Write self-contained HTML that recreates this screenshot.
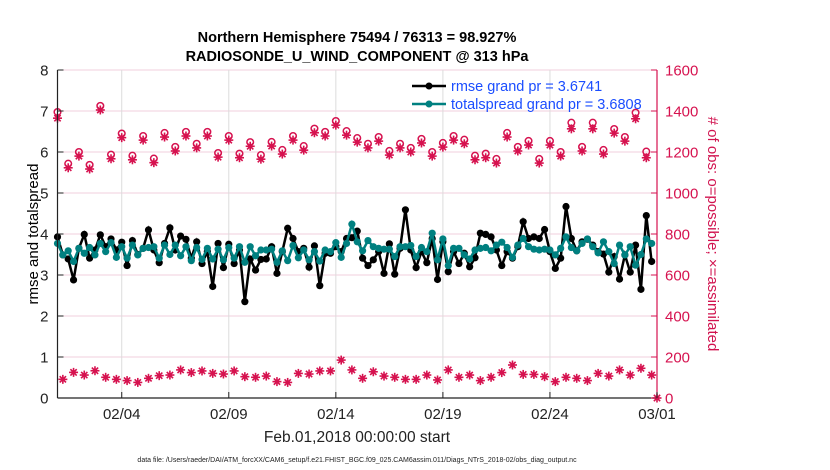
<!DOCTYPE html>
<html><head><meta charset="utf-8"><style>
body{margin:0;background:#fff;}
svg{display:block;font-family:"Liberation Sans",Arial,sans-serif;}
</style></head><body>
<svg id="chart" width="830" height="470" viewBox="0 0 830 470">
<g id="grid"></g>
<g id="marks"></g>
<g id="axes"></g>
<text x="357" y="42" text-anchor="middle" font-size="14.5" font-weight="bold">Northern Hemisphere 75494 / 76313 = 98.927%</text>
<text x="357" y="61" text-anchor="middle" font-size="14.5" font-weight="bold">RADIOSONDE_U_WIND_COMPONENT @ 313 hPa</text>
<text transform="translate(38,234) rotate(-90)" text-anchor="middle" font-size="15">rmse and totalspread</text>
<text transform="translate(708,234) rotate(90)" text-anchor="middle" font-size="15" fill="#d1134f"># of obs: o=possible; ×=assimilated</text>
<text x="357" y="442" text-anchor="middle" font-size="15.5" fill="#222">Feb.01,2018 00:00:00 start</text>
<text x="357" y="462" text-anchor="middle" font-size="7" fill="#222">data file: /Users/raeder/DAI/ATM_forcXX/CAM6_setup/f.e21.FHIST_BGC.f09_025.CAM6assim.011/Diags_NTrS_2018-02/obs_diag_output.nc</text>
<g>
<line x1="412" y1="86" x2="446" y2="86" stroke="#000" stroke-width="2.5"/>
<circle cx="429" cy="86" r="3.5" fill="#000"/>
<text x="451" y="91" font-size="14.5" fill="#1a4dff">rmse grand pr = 3.6741</text>
<line x1="412" y1="104" x2="446" y2="104" stroke="#008080" stroke-width="2.5"/>
<circle cx="429" cy="104" r="3.5" fill="#008080"/>
<text x="451" y="109" font-size="14.5" fill="#1a4dff">totalspread grand pr = 3.6808</text>
</g>
</svg>
<script>
const rmse=[3.93,3.49,3.39,2.88,3.65,3.99,3.41,3.61,3.98,3.69,3.88,3.61,3.80,3.23,3.84,3.50,3.65,4.10,3.61,3.30,3.77,4.15,3.61,3.95,3.87,3.41,3.81,3.28,
3.57,2.72,3.77,3.18,3.75,3.28,3.61,2.35,3.39,3.12,3.38,3.39,3.69,3.04,3.57,4.14,3.89,3.57,3.65,3.19,3.71,2.74,3.53,3.53,3.69,3.57,3.89,3.91,
4.07,3.41,3.23,3.37,3.57,3.04,3.76,3.02,3.65,4.59,3.61,3.18,3.57,3.30,3.89,2.89,3.81,3.08,3.57,3.28,3.53,3.20,3.42,4.02,3.99,3.93,3.61,3.23,
3.57,3.41,3.69,4.30,3.89,3.93,3.89,4.11,3.57,3.16,3.41,4.67,3.89,3.59,3.81,3.87,3.73,3.57,3.51,3.07,3.45,2.90,3.49,3.07,3.73,2.65,4.45,3.33];
const spread=[3.77,3.49,3.59,3.33,3.65,3.53,3.67,3.49,3.77,3.57,3.79,3.43,3.69,3.41,3.73,3.49,3.65,3.67,3.69,3.41,3.73,3.50,3.73,3.47,3.69,3.35,3.67,3.38,
3.65,3.39,3.63,3.37,3.67,3.41,3.69,3.31,3.69,3.47,3.61,3.61,3.63,3.31,3.59,3.35,3.72,3.42,3.61,3.37,3.57,3.34,3.61,3.57,3.79,3.43,3.77,4.24,
3.81,3.59,3.84,3.69,3.65,3.63,3.63,3.45,3.69,3.69,3.72,3.45,3.67,3.57,4.02,3.37,3.88,3.23,3.65,3.65,3.49,3.39,3.61,3.65,3.67,3.59,3.73,3.80,
3.67,3.43,3.73,3.89,3.69,3.63,3.61,3.63,3.61,3.49,3.65,3.93,3.67,3.59,3.77,3.88,3.69,3.54,3.81,3.57,3.28,3.73,3.49,3.69,3.24,3.50,3.88,3.77];
const assimHigh=[1365,1123,1180,1117,1405,1167,1270,1162,1258,1148,1273,1205,1278,1220,1278,1175,1258,1172,1228,1165,1229,1190,1258,1209,1294,1278,1331,1282,1248,1220,1253,1185,1220,1200,1244,1180,1224,1258,1240,1162,1172,1146,1273,1205,1234,1146,1234,1180,1313,1205,1313,1190,1292,1253,1362,1172];
const possHigh=[1395,1143,1200,1137,1425,1187,1290,1182,1278,1168,1293,1225,1298,1240,1298,1195,1278,1192,1248,1185,1249,1210,1278,1229,1314,1298,1351,1302,1268,1240,1273,1205,1240,1220,1264,1200,1244,1278,1260,1182,1192,1166,1293,1225,1254,1166,1254,1200,1343,1225,1343,1210,1312,1273,1392,1202];
const assimLow=[91,125,112,133,101,91,85,76,96,109,112,137,124,132,120,117,132,104,101,107,80,76,120,117,132,132,185,137,96,128,107,101,91,91,112,88,137,101,112,85,101,124,161,115,115,104,80,101,96,85,120,107,137,112,145,112];
const endDay=[28];
const endCount=[0];
const xTicks=["02/04","02/09","02/14","02/19","02/24","03/01"];
const xTickDays=[3,8,13,18,23,28];
const leftTicks=[0,1,2,3,4,5,6,7,8];
const rightTicks=[0,200,400,600,800,1000,1200,1400,1600];

const X0=57.5,X1=657,Y0=398,Y1=70,DAYS=28;
const sx=d=>X0+(X1-X0)*d/DAYS;
const syL=v=>Y0-(Y0-Y1)*v/8;
const syR=v=>Y0-(Y0-Y1)*v/1600;
const NS="http://www.w3.org/2000/svg";
const mk=(t,a,p)=>{const e=document.createElementNS(NS,t);for(const k in a)e.setAttribute(k,a[k]);p.appendChild(e);return e;};
const grid=document.getElementById('grid'),marks=document.getElementById('marks'),axes=document.getElementById('axes');
const CR="#d6124f";

rightTicks.forEach(v=>{const l=mk('line',{x1:X0,x2:X1,y1:syR(v),y2:syR(v),stroke:'#f2cfdc','stroke-width':1},grid);

});
xTickDays.slice(0,5).forEach(d=>{const l=mk('line',{x1:sx(d),x2:sx(d),y1:Y1,y2:Y0,stroke:'#dcdcdc','stroke-width':1},grid);

});

function star(x,y,r,p,name){const g=mk('g',{stroke:CR,'stroke-width':1.6},p);


mk('line',{x1:x-r,x2:x+r,y1:y,y2:y},g);mk('line',{x1:x,x2:x,y1:y-r,y2:y+r},g);
mk('line',{x1:x-r*.7,x2:x+r*.7,y1:y-r*.7,y2:y+r*.7},g);mk('line',{x1:x-r*.7,x2:x+r*.7,y1:y+r*.7,y2:y-r*.7},g);
mk('circle',{cx:x,cy:y,r:2.2,fill:CR,stroke:'none'},g);}
assimHigh.forEach((v,i)=>star(sx(i*0.5),syR(v),4.5,marks,'assimilated-marker'));
possHigh.forEach((v,i)=>{const c=mk('circle',{cx:sx(i*0.5),cy:syR(v),r:3.3,fill:'none',stroke:CR,'stroke-width':1.5},marks);

});
assimLow.forEach((v,i)=>star(sx(0.25+i*0.5),syR(v),4.5,marks,'assimilated-marker-low'));
endDay.forEach((d,i)=>star(sx(d),syR(endCount[i]),4.5,marks,'assimilated-marker-end'));

function series(vals,color,name){const pts=vals.map((v,i)=>sx(i*0.25).toFixed(1)+','+syL(v).toFixed(1)).join(' ');
const pl=mk('polyline',{points:pts,fill:'none',stroke:color,'stroke-width':2.5},marks);


vals.forEach((v,i)=>{const c=mk('circle',{cx:sx(i*0.25),cy:syL(v),r:3.6,fill:color},marks);

});}
series(rmse,'#000','rmse');
series(spread,'#008080','totalspread');

const la=mk('line',{x1:X0,x2:X0,y1:Y1,y2:Y0,stroke:'#222','stroke-width':1.2},axes);


const ba=mk('line',{x1:X0,x2:X1,y1:Y0,y2:Y0,stroke:'#222','stroke-width':1.2},axes);


const ra=mk('line',{x1:X1,x2:X1,y1:Y1,y2:Y0,stroke:CR,'stroke-width':1.2},axes);


leftTicks.forEach(v=>{mk('line',{x1:X0,x2:X0+6,y1:syL(v),y2:syL(v),stroke:'#222'},axes);
const t=mk('text',{x:X0-9,y:syL(v)+5.5,'text-anchor':'end','font-size':15,fill:'#222'},axes);t.textContent=v;

});
rightTicks.forEach(v=>{mk('line',{x1:X1-6,x2:X1,y1:syR(v),y2:syR(v),stroke:CR},axes);
const t=mk('text',{x:X1+8,y:syR(v)+5.5,'font-size':15,fill:CR},axes);t.textContent=v;

});
xTicks.forEach((s,i)=>{const x=sx(xTickDays[i]);mk('line',{x1:x,x2:x,y1:Y0-6,y2:Y0,stroke:'#222'},axes);
const t=mk('text',{x:x,y:Y0+21,'text-anchor':'middle','font-size':15,fill:'#222'},axes);t.textContent=s;

});
</script>
</body></html>
